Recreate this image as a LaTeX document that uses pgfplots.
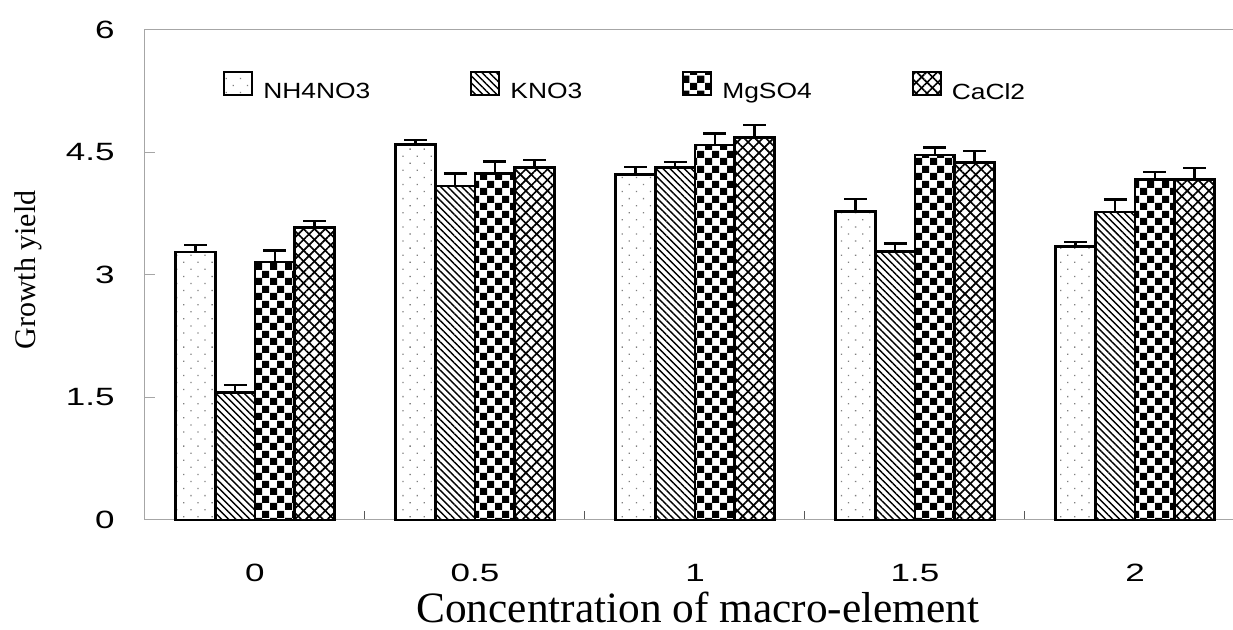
\documentclass[border=0pt]{standalone}
\usepackage{pgfplots}
\usepackage{pgfplotstable}
\pgfplotsset{compat=1.18}
\usetikzlibrary{patterns,patterns.meta}
\usepackage{fontspec}
\setmainfont{Liberation Serif}
\newfontfamily\tickfont[FakeStretch=1.4]{Liberation Sans}
\newfontfamily\legfont[FakeStretch=1.2]{Liberation Sans}
\newcommand\tf[1]{\mbox{\tickfont\fontsize{15}{15}\selectfont #1}}
\pgfdeclarepatternformonly{checker}{\pgfqpoint{0pt}{0pt}}{\pgfqpoint{9pt}{9pt}}{\pgfqpoint{9pt}{9pt}}{%
 \pgfpathrectangle{\pgfqpoint{0pt}{0pt}}{\pgfqpoint{4.5pt}{4.5pt}}%
 \pgfpathrectangle{\pgfqpoint{4.5pt}{4.5pt}}{\pgfqpoint{4.5pt}{4.5pt}}%
 \pgfusepath{fill}}

\pgfplotstableread{
x nh nhe k ke mg mge ca cae
0 3.28 0.085 1.56 0.09 3.16 0.14 3.58 0.08
1 4.60 0.05 4.09 0.15 4.24 0.15 4.32 0.085
2 4.23 0.09 4.32 0.065 4.59 0.14 4.68 0.155
3 3.78 0.15 3.29 0.095 4.47 0.09 4.38 0.14
4 3.35 0.055 3.77 0.155 4.17 0.09 4.17 0.14
}\data

\begin{document}
\begin{tikzpicture}
\begin{axis}[
  scale only axis,
  width=660pt, height=294pt,
  xmin=-0.5, xmax=4.5, ymin=0, ymax=6,
  clip=false,
  ybar=0pt, bar width=0.18,
  axis line style={gray!70, line width=0.6pt},
  xtick={0,1,2,3,4},
  xticklabels={\tf{0},\tf{0.5},\tf{1},\tf{1.5},\tf{2}},
  minor xtick={0.5,1.5,2.5,3.5},
  major x tick style={draw=none},
  minor x tick style={gray!70!black, line width=0.6pt},
  minor tick length=5.4pt,
  ytick={0,1.5,3,4.5,6},
  yticklabels={\tf{0},\tf{1.5},\tf{3},\tf{4.5},\tf{6}},
  ytick style={gray!70, line width=0.6pt},
  major tick length=6pt,
  tick align=inside,
  xtick pos=bottom, ytick pos=left,
  yticklabel style={anchor=east, inner sep=0pt, xshift=-18pt},
  xticklabel style={anchor=center, inner sep=0pt, yshift=-31.8pt},
  ylabel={Growth yield},
  ylabel style={font=\fontsize{18}{18}\selectfont, at={(axis description cs:-0.1064,0.51)}, anchor=center},
  xlabel={Concentration of macro-element},
  xlabel style={font=\fontsize{26}{26}\selectfont, inner sep=0pt, at={(axis description cs:0.5027,-0.2102)}, anchor=base},
  legend columns=4,
  legend image code/.code={\draw[#1, line width=1.2pt] (0pt,-1.8pt) rectangle (16.8pt,12pt);},
  legend style={draw=none, fill=none, inner sep=0pt,
    at={(axis description cs:0.0709,0.9163)}, anchor=north west,
    font=\legfont\fontsize{13.2}{13.2}\selectfont,
    nodes={inner sep=0pt},
    /tikz/every odd column/.append style={column sep=6pt},
    /tikz/every even column/.append style={column sep=60pt}},
  error bars/y dir=plus,
  error bars/y explicit,
  error bars/error bar style={black, line width=1.5pt},
  error bars/error mark options={black, rotate=90, line width=1.5pt, mark size=6.8pt},
]
\addplot[draw=black, line width=1.6pt, fill=white,
  postaction={pattern={Dots[distance=6pt,angle=45,radius=0.55pt]}, pattern color=gray}]
  table[x=x, y=nh, y error=nhe]{\data};
\addplot[draw=black, line width=1.6pt, fill=white,
  postaction={pattern={Lines[angle=-45,distance=3pt,line width=0.85pt]}, pattern color=black}]
  table[x=x, y=k, y error=ke]{\data};
\addplot[draw=black, line width=1.6pt, fill=white,
  postaction={pattern=checker, pattern color=black}]
  table[x=x, y=mg, y error=mge]{\data};
\addplot[draw=black, line width=1.6pt, fill=white,
  postaction={pattern={Lines[angle=45,distance=4.6pt,line width=1pt]}, pattern color=black},
  postaction={pattern={Lines[angle=-45,distance=4.6pt,line width=1pt]}, pattern color=black}]
  table[x=x, y=ca, y error=cae]{\data};
\legend{NH4NO3,KNO3,MgSO4,CaCl2}
\coordinate (BL) at (axis cs:-1.159,-1.347);
\coordinate (TR) at (axis cs:4.4455,6.367);
\end{axis}
\pgfresetboundingbox
\useasboundingbox (BL) rectangle (TR);
\end{tikzpicture}
\end{document}
